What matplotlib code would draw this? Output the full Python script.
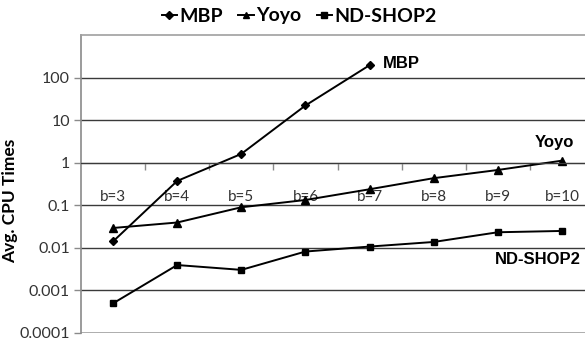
import matplotlib
matplotlib.use("Agg")
import matplotlib.pyplot as plt
from matplotlib.lines import Line2D
from matplotlib.ticker import FixedLocator, NullFormatter

# values
categories = ['b=3', 'b=4', 'b=5', 'b=6', 'b=7', 'b=8', 'b=9', 'b=10']
mbp = [0.014, 0.37, 1.6, 22, 195]
yoyo = [0.029, 0.039, 0.089, 0.132, 0.236, 0.43, 0.67, 1.11]
ndshop2 = [0.00049, 0.0039, 0.0030, 0.0081, 0.0106, 0.0136, 0.023, 0.0247]
y_ticks = [0.0001, 0.001, 0.01, 0.1, 1, 10, 100]
y_tick_labels = ['0.0001', '0.001', '0.01', '0.1', '1', '10', '100']

label_font = 'Lato'
grey = '#8a8a8a'

fig = plt.figure(figsize=(5.85, 3.46), dpi=100)
ax = fig.add_axes([81 / 585, 13.3 / 346, 513 / 585, 297.7 / 346])

x_all = list(range(len(categories)))
ax.plot(x_all[:len(mbp)], mbp, color='black', lw=1.4, marker='D', ms=4.5, label='MBP')
ax.plot(x_all, yoyo, color='black', lw=1.4, marker='^', ms=6, label='Yoyo')
ax.plot(x_all, ndshop2, color='black', lw=1.4, marker='s', ms=5, label='ND-SHOP2')

ax.set_yscale('log')
ax.set_ylim(1e-4, 1e3)
ax.set_xlim(-0.5, len(categories) - 0.5)

ax.yaxis.set_major_locator(FixedLocator(y_ticks))
ax.set_yticklabels(y_tick_labels, fontfamily=label_font, fontsize=11.5, color='#333333')
ax.yaxis.set_minor_locator(FixedLocator([]))
ax.tick_params(axis='y', which='major', direction='out', length=5, width=1, color=grey, pad=3)
for v in y_ticks[1:]:
    ax.axhline(v, color='#3a3a3a', lw=1.0, zorder=0.5)

# category axis crosses at y = 1, labels sit below it
ax.spines['bottom'].set_position(('data', 1))
ax.spines['bottom'].set_color('#3a3a3a')
ax.set_xticks(x_all)
ax.set_xticklabels(categories, fontfamily=label_font, fontsize=11, color='#333333')
ax.set_xticks([i + 0.5 for i in x_all[:-1]], minor=True)
ax.xaxis.set_minor_formatter(NullFormatter())
ax.tick_params(axis='x', which='major', length=0, pad=20)
ax.tick_params(axis='x', which='minor', direction='out', length=5, width=1, color=grey)

ax.axhline(1e-4, color='#a0a0a0', lw=1.2, zorder=0.5)
ax.spines['left'].set_color(grey)
ax.spines['left'].set_linewidth(1.2)
ax.spines['top'].set_color('#a0a0a0')
ax.spines['top'].set_linewidth(1.2)
ax.spines['right'].set_visible(False)

ax.set_ylabel('Avg. CPU Times', fontfamily=label_font, fontweight='bold', fontsize=12.5)
ax.yaxis.set_label_coords((18 - 81) / 513, (346 - 201 - 13.3) / 297.7)

# series names next to the lines
ann = dict(fontfamily='Liberation Sans', fontweight='bold', fontsize=12, va='center')
fig.text(383 / 585, 1 - 63 / 346, 'MBP', ha='left', **ann)
fig.text(574 / 585, 1 - 143 / 346, 'Yoyo', ha='right', **ann)
fig.text(581 / 585, 1 - 259 / 346, 'ND-SHOP2', ha='right', **ann)

handles = [Line2D([], [], color='black', lw=1.4, marker=m, ms=4) for m in ['D', '^', 's']]
fig.legend(handles, ['MBP', 'Yoyo', 'ND-SHOP2'], loc='center', bbox_to_anchor=(299 / 585, 1 - 16 / 346),
           ncol=3, frameon=False, handlelength=0.8, handletextpad=0.1, columnspacing=0.8,
           prop={'family': label_font, 'weight': 'bold', 'size': 14})

fig.savefig('out.png', dpi=100)
